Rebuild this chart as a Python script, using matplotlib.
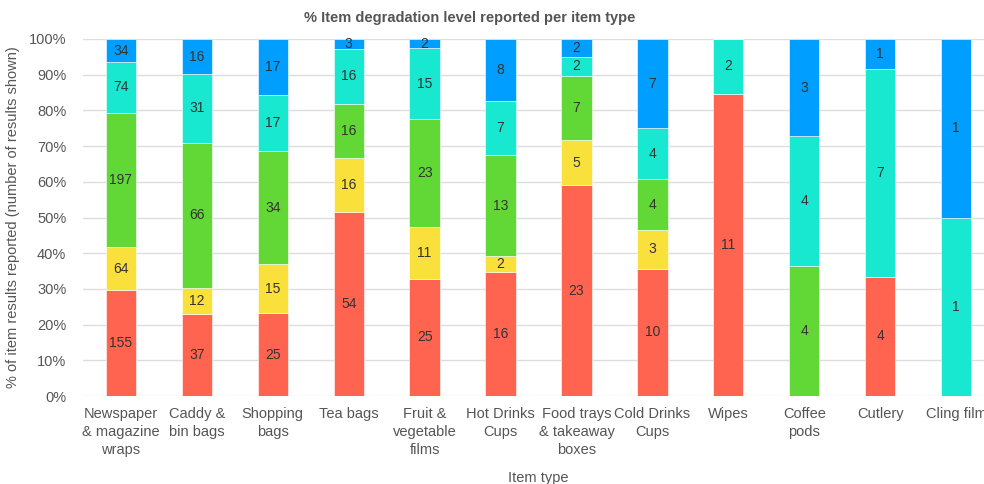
import matplotlib.pyplot as plt
import numpy as np

plt.rcParams['font.family'] = ['Liberation Sans', 'DejaVu Sans']

categories = ["Newspaper\n& magazine\nwraps", "Caddy &\nbin bags", "Shopping\nbags",
              "Tea bags", "Fruit &\nvegetable\nfilms", "Hot Drinks\nCups",
              "Food trays\n& takeaway\nboxes", "Cold Drinks\nCups", "Wipes",
              "Coffee\npods", "Cutlery", "Cling film"]
red = [155, 37, 25, 54, 25, 16, 23, 10, 11, 0, 4, 0]
yellow = [64, 12, 15, 16, 11, 2, 5, 3, 0, 0, 0, 0]
green = [197, 66, 34, 16, 23, 13, 7, 4, 0, 4, 0, 0]
cyan = [74, 31, 17, 16, 15, 7, 2, 4, 2, 4, 7, 1]
blue = [34, 16, 17, 3, 2, 8, 2, 7, 0, 3, 1, 1]

series = [red, yellow, green, cyan, blue]
colors = ["#FF6450", "#F9E03B", "#62D836", "#17E8CF", "#009FFF"]

counts = np.array(series, dtype=float)
totals = counts.sum(axis=0)
pct = counts / totals * 100

fig = plt.figure(figsize=(9.84, 4.84), dpi=100)
ax = fig.add_axes([83 / 984, 88 / 484, 911 / 984, 357 / 484])

x = np.arange(len(categories))
bottom = np.zeros(len(categories))
for vals, p, c in zip(series, pct, colors):
    ax.bar(x, p, 0.4, bottom=bottom, color=c, edgecolor="#ffffff", linewidth=0.4, zorder=2)
    for xi, v, pi, b in zip(x, vals, p, bottom):
        if v > 0:
            ax.text(xi, b + pi / 2, str(v), ha="center", va="center",
                    fontsize=10, color="#333333", zorder=3)
    bottom += p

ax.set_xlim(-0.5, len(categories) - 0.5)
ax.set_ylim(0, 100)
ax.set_yticks(np.arange(0, 101, 10))
ax.set_yticklabels([f"{v}%" for v in range(0, 101, 10)], fontsize=10.5, color="#555555")
ax.set_xticks(x)
ax.set_xticklabels(categories, fontsize=10.5, color="#555555", linespacing=1.35)
ax.tick_params(length=0, pad=8)
ax.tick_params(axis="y", pad=12)
ax.grid(axis="y", color="#dddddd", linewidth=1, zorder=0)
for s in ax.spines.values():
    s.set_visible(False)

ax.set_xlabel("Item type", fontsize=10.5, color="#555555", labelpad=10)
ax.set_ylabel("% of item results reported (number of results shown)", fontsize=10.5,
              color="#555555", labelpad=6)
fig.text(470 / 984, 1 - 18 / 484, "% Item degradation level reported per item type",
         ha="center", va="center", fontsize=10.5, fontweight="bold", color="#555555")

fig.savefig("out.png", dpi=100)
